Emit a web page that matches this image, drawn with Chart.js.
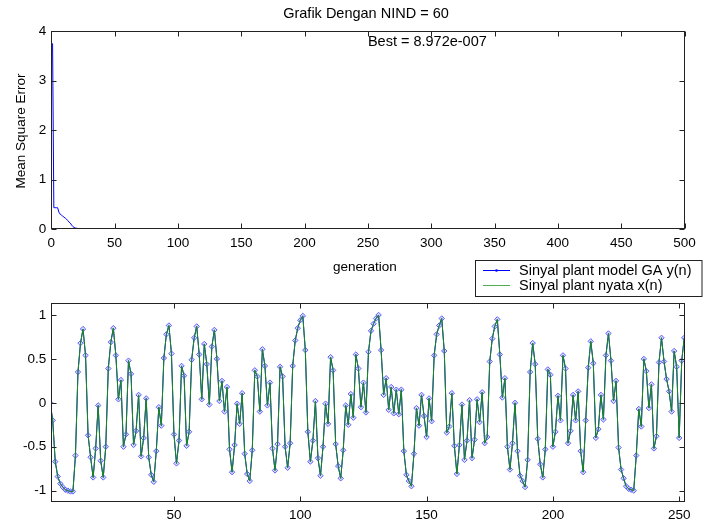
<!DOCTYPE html>
<html><head><meta charset="utf-8">
<script src="https://cdn.jsdelivr.net/npm/chart.js@4.4.1/dist/chart.umd.min.js"></script>
<style>
html,body{margin:0;padding:0;background:#fff;width:709px;height:523px;overflow:hidden;}
canvas{position:absolute;left:0;}
#topc{top:0;} #botc{top:250px;}
</style></head><body>
<canvas id="topc" width="709" height="290"></canvas>
<canvas id="botc" width="709" height="273"></canvas>
<script>
// ---------- data ----------
const titleText = 'Grafik Dengan NIND = 60';
const bestText = 'Best = 8.972e-007';
const bestAt = [250, 3.77];
const xLabelTop = 'generation';
const yLabelTop = 'Mean Square Error';
const legendLabels = ['Sinyal plant model GA y(n)', 'Sinyal plant nyata x(n)'];

const genX = [1,2,3,4,5,6,7,8,9,10,11,12,13,14,15,16,17,18,19,20,21,22,500];
const mseY = [3.75,0.43,0.43,0.43,0.43,0.34,0.30,0.28,0.26,0.24,0.22,0.20,0.17,0.14,0.12,0.08,0.05,0.03,0.02,0.015,0.01,0.005,0.000001];
const topXTicks = [0,50,100,150,200,250,300,350,400,450,500];
const topYTicks = [0,1,2,3,4];

const plantModel = [
 0.0,-0.20,-0.67,-0.84,-0.92,-0.96,-0.99,-1.00,-1.01,-1.01,
 -0.60,0.35,0.68,0.84,0.54,-0.37,-0.62,-0.85,-0.52,-0.03,
 -0.66,-0.85,-0.50,0.39,0.69,0.85,0.54,0.04,0.26,-0.50,
 -0.36,0.48,0.33,-0.48,-0.32,0.09,-0.61,-0.40,0.05,-0.62,
 -0.82,-0.90,-0.55,-0.05,-0.26,0.51,0.78,0.88,0.56,-0.36,
 -0.69,-0.43,0.42,0.31,-0.49,-0.33,0.49,0.74,0.87,0.55,
 0.04,0.67,0.44,-0.02,0.64,0.83,0.50,0.02,0.25,-0.10,
 0.18,-0.53,-0.79,-0.48,-0.01,-0.24,0.11,-0.58,-0.81,-0.89,
 -0.54,0.37,0.30,-0.10,0.61,0.42,-0.03,0.23,-0.52,-0.77,
 -0.47,0.41,0.30,-0.50,-0.74,-0.46,0.42,0.71,0.85,0.94,
 0.99,0.60,-0.33,-0.67,-0.43,0.02,-0.63,-0.83,-0.50,-0.01,
 -0.24,0.52,0.37,-0.47,-0.72,-0.86,-0.54,-0.03,-0.25,0.10,
 -0.17,0.55,0.39,-0.05,0.23,-0.11,0.58,0.82,0.90,0.96,
 1.00,0.60,0.09,0.28,-0.08,0.18,-0.12,0.15,-0.13,0.15,
 -0.55,-0.82,-0.89,-0.95,-0.58,-0.06,-0.26,0.09,-0.15,-0.39,
 0.05,-0.21,0.54,0.78,0.88,0.96,0.59,-0.34,-0.27,0.11,
 -0.49,-0.81,-0.48,-0.02,-0.65,-0.43,0.03,-0.63,-0.42,0.04,
 -0.22,0.12,-0.46,-0.39,0.47,0.73,0.87,0.95,0.55,0.06,
 0.28,-0.50,-0.76,-0.46,0.00,-0.55,-0.83,-0.89,-0.96,-0.65,
 0.35,0.68,0.44,-0.41,-0.70,-0.85,-0.53,0.38,0.32,-0.50,
 -0.33,0.08,-0.20,0.54,0.39,-0.46,-0.32,0.09,-0.20,0.13,
 -0.55,-0.79,-0.20,0.40,0.70,0.45,-0.40,-0.30,0.09,-0.19,
 0.54,0.79,0.48,0.02,0.25,-0.51,-0.76,-0.86,-0.95,-0.98,
 -0.99,-1.00,-0.60,-0.07,-0.27,0.50,0.36,-0.06,0.21,-0.52,
 -0.38,0.46,0.74,0.47,0.27,0.13,-0.10,0.59,0.41,-0.40,
 0.48,0.74
];
const plantReal = [
 0.0,-0.20,-0.67,-0.84,-0.92,-0.96,-0.99,-1.00,-1.01,-1.01,
 -0.60,0.35,0.68,0.84,0.54,-0.37,-0.62,-0.85,-0.52,-0.03,
 -0.66,-0.85,-0.50,0.39,0.69,0.85,0.54,0.04,0.26,-0.50,
 -0.36,0.48,0.33,-0.48,-0.32,0.09,-0.61,-0.40,0.05,-0.62,
 -0.82,-0.90,-0.55,-0.05,-0.26,0.51,0.78,0.88,0.56,-0.36,
 -0.69,-0.43,0.42,0.31,-0.49,-0.33,0.49,0.74,0.87,0.55,
 0.04,0.67,0.44,-0.02,0.64,0.83,0.50,0.02,0.25,-0.10,
 0.18,-0.53,-0.79,-0.48,-0.01,-0.24,0.11,-0.58,-0.81,-0.89,
 -0.54,0.37,0.30,-0.10,0.61,0.42,-0.03,0.23,-0.52,-0.77,
 -0.47,0.41,0.30,-0.50,-0.74,-0.46,0.42,0.71,0.85,0.94,
 0.99,0.60,-0.33,-0.67,-0.43,0.02,-0.63,-0.83,-0.50,-0.01,
 -0.24,0.52,0.37,-0.47,-0.72,-0.86,-0.54,-0.03,-0.25,0.10,
 -0.17,0.55,0.39,-0.05,0.23,-0.11,0.58,0.82,0.90,0.96,
 1.00,0.60,0.09,0.28,-0.08,0.18,-0.12,0.15,-0.13,0.15,
 -0.55,-0.82,-0.89,-0.95,-0.58,-0.06,-0.26,0.09,-0.15,-0.39,
 0.05,-0.21,0.54,0.78,0.88,0.96,0.59,-0.34,-0.27,0.11,
 -0.49,-0.81,-0.48,-0.02,-0.65,-0.43,0.03,-0.63,-0.42,0.04,
 -0.22,0.12,-0.46,-0.39,0.47,0.73,0.87,0.95,0.55,0.06,
 0.28,-0.50,-0.76,-0.46,0.00,-0.55,-0.83,-0.89,-0.96,-0.65,
 0.35,0.68,0.44,-0.41,-0.70,-0.85,-0.53,0.38,0.32,-0.50,
 -0.33,0.08,-0.20,0.54,0.39,-0.46,-0.32,0.09,-0.20,0.13,
 -0.55,-0.79,-0.20,0.40,0.70,0.45,-0.40,-0.30,0.09,-0.19,
 0.54,0.79,0.48,0.02,0.25,-0.51,-0.76,-0.86,-0.95,-0.98,
 -0.99,-1.00,-0.60,-0.07,-0.27,0.50,0.36,-0.06,0.21,-0.52,
 -0.38,0.46,0.74,0.47,0.27,0.13,-0.10,0.59,0.41,-0.40,
 0.48,0.74
];
const botXTicks = [50,100,150,200,250];
const botYTicks = [-1,-0.5,0,0.5,1];

// ---------- styling ----------
const FONT = '"Liberation Sans", Arial, sans-serif';
Chart.defaults.font.family = FONT;
Chart.defaults.color = '#000';

const matlabAxes = {
  id:'matlabAxes',
  afterDraw(chart){
    const {ctx, chartArea:a, scales:{x,y}} = chart;
    ctx.save();
    ctx.strokeStyle = '#222'; ctx.lineWidth = 1;
    const L=Math.round(a.left)+0.5, R=Math.round(a.right)-0.5, T=Math.round(a.top)+0.5, B=Math.round(a.bottom)-0.5;
    ctx.strokeRect(L, T, R-L, B-T);
    const tl = 5;
    ctx.beginPath();
    x.ticks.forEach(t=>{ const px=Math.round(x.getPixelForValue(t.value))+0.5; ctx.moveTo(px,B); ctx.lineTo(px,B-tl); ctx.moveTo(px,T); ctx.lineTo(px,T+tl);});
    y.ticks.forEach(t=>{ const py=Math.round(y.getPixelForValue(t.value))+0.5; ctx.moveTo(L,py); ctx.lineTo(L+tl,py); ctx.moveTo(R,py); ctx.lineTo(R-tl,py);});
    ctx.stroke();
    ctx.restore();
  }
};

const topText = {
  id:'topText',
  afterDraw(chart){
    const {ctx, scales:{x,y}} = chart;
    ctx.save();
    ctx.fillStyle = '#000';
    ctx.font = '14.5px ' + FONT;
    ctx.textAlign = 'center'; ctx.textBaseline = 'middle';
    ctx.fillText(titleText, 366, 13.5);
    ctx.textAlign = 'left';
    ctx.fillText(bestText, x.getPixelForValue(bestAt[0]), y.getPixelForValue(bestAt[1]));
    ctx.font = '13.5px ' + FONT;
    ctx.textAlign = 'center';
    ctx.fillText(xLabelTop, (x.left + x.right)/2 - 3, 267.5);
    ctx.translate(21.5, 131);
    ctx.rotate(-Math.PI/2);
    ctx.fillText(yLabelTop, 0, 0);
    ctx.restore();
  }
};

const botLegend = {
  id:'botLegend',
  afterDraw(chart){
    const ctx = chart.ctx;
    ctx.save();
    ctx.fillStyle = '#fff';
    ctx.fillRect(475.5, 10.5, 226.5, 36);
    ctx.strokeStyle = '#222'; ctx.lineWidth = 1;
    ctx.strokeRect(475.5, 10.5, 226.5, 36);
    const rows = [20.5, 35.5];
    const cols = ['#0000ff', '#4fae4f'];
    rows.forEach((ry, i) => {
      ctx.strokeStyle = cols[i];
      ctx.beginPath(); ctx.moveTo(483, ry); ctx.lineTo(510, ry); ctx.stroke();
      if (i === 0) { ctx.fillStyle = '#0000ff'; ctx.beginPath(); ctx.arc(496.5, ry, 1.3, 0, Math.PI*2); ctx.fill(); }
      ctx.fillStyle = '#000';
      ctx.font = '14.5px ' + FONT;
      ctx.textAlign = 'left'; ctx.textBaseline = 'middle';
      ctx.fillText(legendLabels[i], 519, ry);
    });
    ctx.restore();
  }
};

const tickFont = {size: 13.5};

new Chart(document.getElementById('topc'), {
  type:'line',
  data:{datasets:[{
    data: genX.map((g,i)=>({x:g, y:mseY[i]})),
    borderColor:'#0000ff', borderWidth:1, pointRadius:0, tension:0, fill:false
  }]},
  options:{
    responsive:false, animation:false, devicePixelRatio:1, events:[],
    layout:{padding:{left:0, right:24.5, top:31, bottom:0}},
    plugins:{legend:{display:false}, tooltip:{enabled:false}, title:{display:false}},
    scales:{
      x:{type:'linear', min:0, max:500,
         afterBuildTicks:s=>{ s.ticks = topXTicks.map(v=>({value:v})); },
         grid:{display:false, drawTicks:false}, border:{display:false},
         ticks:{padding:6, color:'#000', font:tickFont, maxRotation:0, autoSkip:false},
         afterFit:s=>{ s.height = 61; }},
      y:{type:'linear', min:0, max:4,
         afterBuildTicks:s=>{ s.ticks = topYTicks.map(v=>({value:v})); },
         grid:{display:false, drawTicks:false}, border:{display:false},
         ticks:{padding:5, color:'#000', font:tickFont, autoSkip:false},
         afterFit:s=>{ s.width = 51.3; }}
    }
  },
  plugins:[matlabAxes, topText]
});

new Chart(document.getElementById('botc'), {
  type:'line',
  data:{datasets:[
    { label: legendLabels[1],
      data: plantReal.map((v,i)=>({x:i+1, y:v})),
      borderColor:'#1a8c1a', borderWidth:1, pointRadius:0, tension:0, fill:false },
    { label: legendLabels[0],
      data: plantModel.map((v,i)=>({x:i+1, y:v})),
      borderColor:'#0000ff', borderWidth:1, tension:0, fill:false,
      pointStyle:'rectRot', pointRadius:2.7, pointBorderWidth:1,
      pointBorderColor:'rgba(80,80,255,0.9)', pointBackgroundColor:'rgba(150,150,255,0.35)' }
  ]},
  options:{
    responsive:false, animation:false, devicePixelRatio:1, events:[],
    layout:{padding:{left:0, right:24.5, top:53.3, bottom:0}},
    plugins:{legend:{display:false}, tooltip:{enabled:false}, title:{display:false}},
    scales:{
      x:{type:'linear', min:1.44, max:252.1,
         afterBuildTicks:s=>{ s.ticks = botXTicks.map(v=>({value:v})); },
         grid:{display:false, drawTicks:false}, border:{display:false},
         ticks:{padding:5, color:'#000', font:tickFont, maxRotation:0, autoSkip:false},
         afterFit:s=>{ s.height = 20.7; }},
      y:{type:'linear', min:-1.133, max:1.133,
         afterBuildTicks:s=>{ s.ticks = botYTicks.map(v=>({value:v})); },
         grid:{display:false, drawTicks:false}, border:{display:false},
         ticks:{padding:5, color:'#000', font:tickFont, autoSkip:false, callback:v=>String(v)},
         afterFit:s=>{ s.width = 51.3; }}
    }
  },
  plugins:[matlabAxes, botLegend]
});
</script>
</body></html>
